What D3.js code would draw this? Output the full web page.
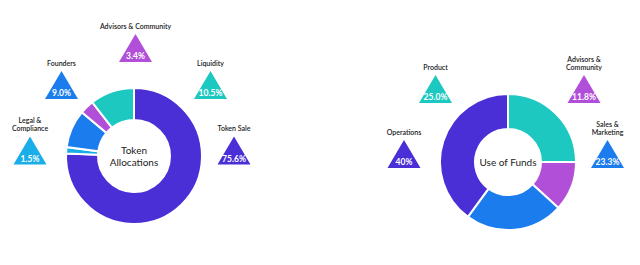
<!DOCTYPE html>
<html>
<head>
<meta charset="utf-8">
<script src="https://cdn.jsdelivr.net/npm/d3@7/dist/d3.min.js"></script>
<style>
  html, body { margin: 0; padding: 0; background: #fff; }
  svg { display: block; font-family: Lato, "Open Sans", sans-serif; }
</style>
</head>
<body>
<svg id="chart" width="640" height="265"></svg>
<script>
// ---- Data ----
const allocCategories = ["Token Sale", "Legal & Compliance", "Founders", "Advisors & Community", "Liquidity"];
const allocLabelLines = [["Token Sale"], ["Legal &", "Compliance"], ["Founders"], ["Advisors & Community"], ["Liquidity"]];
const allocValues = [75.6, 1.5, 9.0, 3.4, 10.5];
const allocValueLabels = ["75.6%", "1.5%", "9.0%", "3.4%", "10.5%"];

const fundsCategories = ["Product", "Advisors & Community", "Sales & Marketing", "Operations"];
const fundsLabelLines = [["Product"], ["Advisors &", "Community"], ["Sales &", "Marketing"], ["Operations"]];
const fundsValues = [25.0, 11.8, 23.3, 40];
const fundsValueLabels = ["25.0%", "11.8%", "23.3%", "40%"];

const allocTitle = ["Token", "Allocations"];
const fundsTitle = ["Use of Funds"];

// ---- Style / layout ----
const C = { indigo: "#4a2ed6", lightBlue: "#1aaee8", blue: "#1b7cee", magenta: "#b24fd8", teal: "#1dc8c0" };
const allocColors = [C.indigo, C.lightBlue, C.blue, C.magenta, C.teal];
const fundsColors = [C.teal, C.magenta, C.blue, C.indigo];

// callout offsets (triangle middle relative to donut centre)
const allocCallouts = [[100, -5.5], [-104, -5.5], [-72.5, -71], [1.5, -108], [76.5, -71]];
const fundsCallouts = [[-72.5, -73], [76, -73], [99.5, -8], [-104, -8]];

const svg = d3.select("#chart");

function donut(cfg) {
  const g = svg.append("g").attr("transform", `translate(${cfg.cx},${cfg.cy})`);
  const pie = d3.pie().sort(null).value(d => d)(cfg.values);
  const arc = d3.arc().innerRadius(cfg.inner).outerRadius(cfg.outer);
  g.selectAll("path.slice").data(pie).enter().append("path")
    .attr("class", "slice")
    .attr("d", arc)
    .attr("fill", (d, i) => cfg.colors[i])
    .attr("stroke", "#fff")
    .attr("stroke-width", 2)
    .attr("stroke-linejoin", "miter");

  // centre title
  const n = cfg.title.length;
  g.append("text")
    .attr("text-anchor", "middle")
    .attr("font-size", 10)
    .attr("fill", "#222")
    .selectAll("tspan").data(cfg.title).enter().append("tspan")
    .attr("x", 0)
    .attr("y", (d, i) => (i - (n - 1) / 2) * 12 + 3.5)
    .text(d => d);

  // callouts
  const tw = 33, th = 28;
  cfg.values.forEach((v, i) => {
    const [dx, dy] = cfg.callouts[i];
    const cg = g.append("g").attr("transform", `translate(${dx},${dy})`);
    const apex = -th / 2, base = th / 2;
    cg.append("path")
      .attr("d", `M0,${apex} L${tw / 2},${base} L${-tw / 2},${base} Z`)
      .attr("fill", cfg.colors[i]);
    cg.append("text")
      .attr("text-anchor", "middle")
      .attr("y", base - 3)
      .attr("font-size", 8.5)
      .attr("font-weight", "bold")
      .attr("fill", "#fff")
      .text(cfg.valueLabels[i]);
    const lines = cfg.labelLines[i];
    const t = cg.append("text")
      .attr("text-anchor", "middle")
      .attr("font-size", 7)
      .attr("font-weight", 600)
      .attr("fill", "#1a1a1a");
    t.selectAll("tspan").data(lines).enter().append("tspan")
      .attr("x", 0)
      .attr("y", (d, j) => apex - 5.5 - (lines.length - 1 - j) * 8)
      .text(d => d);
  });
}

donut({ cx: 134, cy: 156, outer: 68, inner: 36, values: allocValues, colors: allocColors,
  title: allocTitle, callouts: allocCallouts, valueLabels: allocValueLabels, labelLines: allocLabelLines });
donut({ cx: 508, cy: 162, outer: 68, inner: 33, values: fundsValues, colors: fundsColors,
  title: fundsTitle, callouts: fundsCallouts, valueLabels: fundsValueLabels, labelLines: fundsLabelLines });
</script>
</body>
</html>
